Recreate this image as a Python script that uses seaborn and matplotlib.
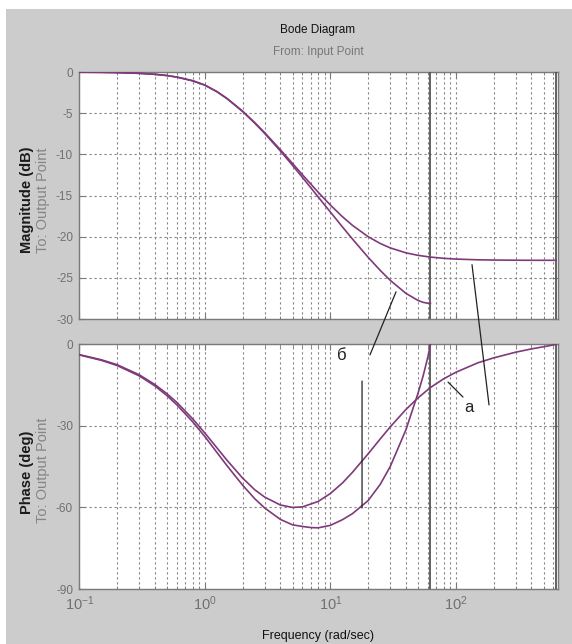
import matplotlib
matplotlib.use('Agg')
import matplotlib.pyplot as plt
import numpy as np
import pandas as pd
import seaborn as sns
from matplotlib.patches import Rectangle, ConnectionPatch
from matplotlib.ticker import FixedLocator, LogLocator, NullFormatter

# Curve "a" (fine sampling, Nyquist at ~628 rad/s)
freq_a = [0.1, 0.15, 0.2, 0.3, 0.4, 0.5, 0.6, 0.8, 1.0, 1.25, 1.5, 2.0, 2.5, 3.0,
          4.0, 5.0, 6.0, 8.0, 10, 12.5, 15, 20, 25, 30, 40, 50, 62.8, 80, 100,
          150, 200, 300, 400, 500, 560, 628]
mag_a = [-0.02, -0.04, -0.07, -0.16, -0.28, -0.43, -0.62, -1.06, -1.58, -2.38,
         -3.20, -4.75, -6.15, -7.37, -9.44, -11.11, -12.48, -14.60, -16.15,
         -17.58, -18.62, -20.00, -20.83, -21.36, -21.96, -22.27, -22.48, -22.63,
         -22.72, -22.81, -22.84, -22.86, -22.87, -22.87, -22.87, -22.87]
phase_a = [-3.8, -5.7, -7.5, -11.2, -14.8, -18.2, -21.4, -27.4, -32.6, -38.1,
           -42.6, -49.2, -53.5, -56.2, -59.1, -60.0, -59.8, -57.8, -54.9, -51.0,
           -47.1, -40.3, -34.8, -30.4, -24.0, -19.7, -15.9, -12.7, -10.3, -6.8,
           -5.0, -2.9, -1.7, -0.9, -0.5, 0.0]

# Curve "б" (coarse sampling, Nyquist at ~62.8 rad/s)
freq_b = [0.1, 0.15, 0.2, 0.3, 0.4, 0.5, 0.6, 0.8, 1.0, 1.25, 1.5, 2.0, 2.5, 3.0,
          4.0, 5.0, 6.0, 7.0, 8.0, 10, 12.5, 15, 20, 25, 30, 40, 50, 55, 60, 62.8]
mag_b = [-0.02, -0.04, -0.07, -0.16, -0.28, -0.43, -0.62, -1.07, -1.60, -2.40,
         -3.23, -4.80, -6.21, -7.46, -9.59, -11.34, -12.81, -14.07, -15.17,
         -17.00, -18.82, -20.28, -22.50, -24.10, -25.30, -26.88, -27.75, -27.98,
         -28.09, -28.11]
phase_b = [-3.9, -5.9, -7.8, -11.6, -15.3, -18.9, -22.3, -28.5, -33.9, -39.8,
           -44.6, -51.8, -56.8, -60.2, -64.4, -66.4, -67.0, -67.4, -67.5, -66.6,
           -64.5, -62.3, -57.5, -51.5, -45.0, -31.5, -18.0, -11.5, -4.5, 0.0]

nyquist = [62.83, 628.3]
mag_ticks = [0, -5, -10, -15, -20, -25, -30]
phase_ticks = [0, -30, -60, -90]
freq_ticks = [0.1, 1, 10, 100]
freq_labels = [r'$10^{-1}$', r'$10^{0}$', r'$10^{1}$', r'$10^{2}$']

plt.rcParams['font.family'] = ['Liberation Sans', 'DejaVu Sans']
plt.rcParams['mathtext.default'] = 'regular'
plt.rcParams['axes.unicode_minus'] = False

W, H = 572, 644
fig = plt.figure(figsize=(W / 100, H / 100), dpi=100, facecolor='white')
fig.add_artist(Rectangle((6 / W, 0), 1, 1 - 9 / H, transform=fig.transFigure,
                         facecolor='#cccccc', edgecolor='none', zorder=-5))


def box(l, t, r, b):
    return [l / W, 1 - b / H, (r - l) / W, (b - t) / H]


ax_m = fig.add_axes(box(79.3, 72, 557.5, 319))
ax_p = fig.add_axes(box(79.3, 344.3, 557.5, 589))

curve_c = '#7e3a7a'
grid_c = '#858585'
tick_c = '#707070'

df_a = pd.DataFrame({'freq': freq_a, 'mag': mag_a, 'phase': phase_a})
df_b = pd.DataFrame({'freq': freq_b, 'mag': mag_b, 'phase': phase_b})

for ax, col in ((ax_m, 'mag'), (ax_p, 'phase')):
    ax.set_xscale('log')
    for df in (df_a, df_b):
        sns.lineplot(data=df, x='freq', y=col, ax=ax, color=curve_c, lw=1.2,
                     estimator=None, sort=False, zorder=4)
    for f in nyquist:
        ax.axvline(f, color='#555555', lw=1.3, zorder=3)
    ax.set_xlim(0.1, 646)
    ax.xaxis.set_major_locator(FixedLocator(freq_ticks))
    ax.xaxis.set_minor_locator(LogLocator(base=10, subs=np.arange(2, 10)))
    ax.xaxis.set_minor_formatter(NullFormatter())
    ax.grid(which='major', color=grid_c, ls=(0, (2, 2.5)), lw=0.8)
    ax.grid(which='minor', axis='x', color=grid_c, ls=(0, (2, 2.5)), lw=0.8)
    ax.set_facecolor('white')
    for s in ax.spines.values():
        s.set_color('#7a7a7a')
        s.set_linewidth(1.0)
    ax.tick_params(which='both', direction='in', top=True, right=True,
                   colors='#7a7a7a', labelcolor=tick_c, labelsize=8.5, pad=4.5)
    ax.tick_params(which='major', length=4)
    ax.tick_params(which='minor', length=2)
    ax.set_xlabel('')
    ax.set_ylabel('')

ax_m.set_ylim(-30, 0)
ax_m.set_yticks(mag_ticks)
ax_m.set_yticklabels([str(v) for v in mag_ticks])
ax_m.tick_params(axis='x', labelbottom=False)

ax_p.set_ylim(-90, 0)
ax_p.set_yticks(phase_ticks)
ax_p.set_yticklabels([str(v) for v in phase_ticks])
ax_p.set_xticklabels(freq_labels)
ax_p.tick_params(axis='x', labelsize=10.5, pad=4)

# titles and axis labels
fig.text(318 / W, 1 - 30 / H, 'Bode Diagram', ha='center', va='center',
         fontsize=8.5, color='#111111')
fig.text(318 / W, 1 - 52 / H, 'From: Input Point', ha='center', va='center',
         fontsize=8.5, color='#777777')
fig.text(27 / W, 1 - 200 / H, 'Magnitude (dB)', rotation=90, ha='center',
         va='center', fontsize=10.5, fontweight='bold', color='#1a1a1a')
fig.text(43 / W, 1 - 200 / H, 'To: Output Point', rotation=90, ha='center',
         va='center', fontsize=10.5, color='#858585')
fig.text(27 / W, 1 - 472 / H, 'Phase (deg)', rotation=90, ha='center',
         va='center', fontsize=10.5, fontweight='bold', color='#1a1a1a')
fig.text(43 / W, 1 - 470 / H, 'To: Output Point', rotation=90, ha='center',
         va='center', fontsize=10.5, color='#858585')
fig.text(318 / W, 1 - 636 / H, 'Frequency (rad/sec)', ha='center', va='center',
         fontsize=9, color='#111111')

# hand-drawn pointer lines and curve names
pointers = [
    ((20.7, -3.9), ax_p, (33.4, -26.7), ax_m),
    ((17.9, -13.5), ax_p, (17.9, -60.2), ax_p),
    ((86.7, -13.9), ax_p, (114, -19.4), ax_p),
    ((134.6, -23.4), ax_m, (183.9, -22.3), ax_p),
]
for xa, axa, xb, axb in pointers:
    con = ConnectionPatch(xyA=xa, coordsA=axa.transData, xyB=xb,
                          coordsB=axb.transData, color='#222222', lw=0.9,
                          zorder=10)
    fig.add_artist(con)

ax_p.text(12.4, -4.3, 'б', fontsize=12, ha='center', va='center',
          color='#222222', zorder=10)
ax_p.text(127, -23.1, 'а', fontsize=12, ha='center', va='center',
          color='#222222', zorder=10)

fig.savefig('out.png', dpi=100, facecolor=fig.get_facecolor())
